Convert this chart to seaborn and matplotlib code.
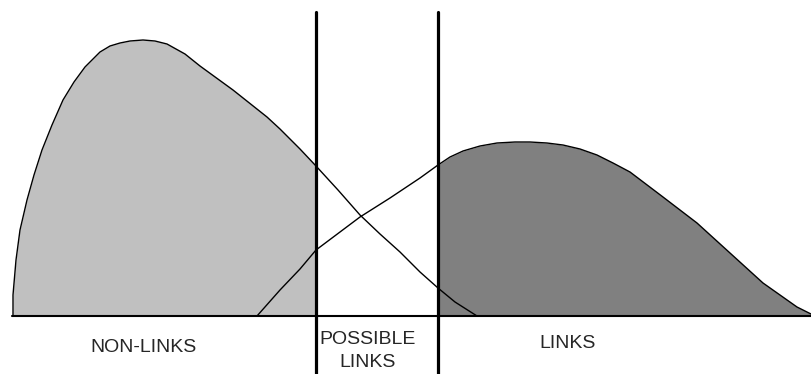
import numpy as np
import pandas as pd
import seaborn as sns
import matplotlib.pyplot as plt

# curve points (x in px, y = height above baseline in px)
nonlink_x = [13, 13, 16, 20, 27, 34, 42, 52, 63, 74, 85, 100, 110, 120, 130, 143, 155, 167,
             185, 200, 233, 267, 280, 290, 300, 316, 338, 360, 380, 400, 420, 438, 455, 477]
nonlink_y = [0, 21, 56, 86, 116, 141, 166, 191, 216, 234, 249, 264, 270, 273, 275, 276, 275,
             272, 262, 250, 226, 199, 187, 177, 167, 150, 126, 101, 82, 64, 44, 28, 14, 0]

link_x = [257, 280, 300, 316, 340, 360, 390, 420, 438, 450, 463, 480, 497, 515, 530, 547,
          563, 580, 597, 613, 630, 663, 697, 730, 763, 797, 811]
link_y = [0, 26, 47, 66, 84, 99, 118, 138, 151, 159, 165, 170, 173, 174, 174, 173, 171,
          167, 161, 153, 144, 119, 93, 63, 33, 9, 2]

cut_low = 316
cut_high = 438
labels = ["NON-LINKS", "POSSIBLE\nLINKS", "LINKS"]

df = pd.concat([
    pd.DataFrame({"x": nonlink_x, "y": nonlink_y, "group": "non-links"}),
    pd.DataFrame({"x": link_x, "y": link_y, "group": "links"}),
])

sns.set_style("white")
fig = plt.figure(figsize=(8.11, 3.74), dpi=100)
ax = fig.add_axes([0, 0, 1, 1])

nl = df[df["group"] == "non-links"]
lk = df[df["group"] == "links"]
nx, ny = nl["x"].to_numpy(), nl["y"].to_numpy()
lx, ly = lk["x"].to_numpy(), lk["y"].to_numpy()

ax.fill_between(nx, 0, ny, where=nx <= cut_low, color="#c0c0c0", lw=0)
ax.fill_between(lx, 0, ly, where=lx >= cut_high, color="#808080", lw=0)

for g in ["non-links", "links"]:
    sns.lineplot(data=df[df["group"] == g], x="x", y="y", sort=False,
                 color="black", lw=1.0, ax=ax, estimator=None)

ax.plot([12, 811], [0, 0], color="black", lw=1.5)
for c in [cut_low, cut_high]:
    ax.plot([c, c], [-60, 304], color="black", lw=2.3)

ax.text(144, -32, labels[0], ha="center", va="center", fontsize=14,
        family="Liberation Sans")
ax.text(368, -35, labels[1], ha="center", va="center", fontsize=14,
        family="Liberation Sans", linespacing=1.45)
ax.text(568, -28, labels[2], ha="center", va="center", fontsize=14,
        family="Liberation Sans")

ax.set_xlim(0, 811)
ax.set_ylim(-58, 316)
ax.axis("off")

plt.savefig("out.png", dpi=100)
